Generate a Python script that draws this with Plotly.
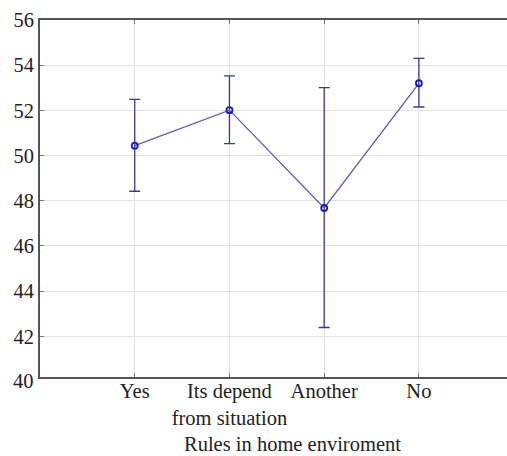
import plotly.graph_objects as go

categories = ["Yes", "Its depend<br>from situation", "Another", "No"]
means = [50.44, 52.01, 47.68, 53.20]
upper = [52.49, 53.53, 53.01, 54.30]
lower = [48.42, 50.53, 42.39, 52.15]
y_ticks = [42, 44, 46, 48, 50, 52, 54, 56]
x_title = "Rules in home enviroment"

x_pos = list(range(1, len(categories) + 1))
err_plus = [u - m for u, m in zip(upper, means)]
err_minus = [m - l for m, l in zip(means, lower)]

font_family = "Liberation Serif"
fs = 20.5
tfont = dict(family=font_family, size=fs, color="#222222")

fig = go.Figure()
fig.add_trace(go.Scatter(
    x=x_pos, y=means, mode="lines+markers",
    line=dict(color="#5c5cb2", width=1.3),
    marker=dict(symbol="circle-open", size=6, color="#1c1cc0", line=dict(width=1.8)),
    error_y=dict(type="data", symmetric=False, array=err_plus, arrayminus=err_minus,
                 color="#3a3a8c", thickness=1.3, width=5.5),
    showlegend=False,
))

fig.update_layout(
    width=507, height=456,
    margin=dict(l=40, r=0, t=20, b=79),
    paper_bgcolor="white", plot_bgcolor="white",
    font=tfont,
    xaxis=dict(
        range=[0, 4.93], tickvals=x_pos, ticktext=categories,
        showgrid=True, gridcolor="#e2e2e2", gridwidth=1.2,
        showline=True, linecolor="#555555", linewidth=1.6, mirror="ticks",
        ticks="inside", ticklen=4, tickcolor="#777777", zeroline=False,
        tickfont=tfont, automargin=False, ticklabelstandoff=-5,
    ),
    yaxis=dict(
        range=[40.2, 56], tickvals=y_ticks,
        showgrid=True, gridcolor="#e2e2e2", gridwidth=1.2,
        showline=True, linecolor="#555555", linewidth=1.6,
        ticks="inside", ticklen=4, tickcolor="#777777", zeroline=False,
        tickfont=tfont, automargin=False,
    ),
)

fig.add_annotation(text="40", x=0, xref="paper", xanchor="right", xshift=-4,
                   y=40.2, yref="y", yanchor="middle", yshift=-4, showarrow=False,
                   font=tfont)
fig.add_annotation(text=x_title, x=(292 - 40) / 467.0, xref="paper",
                   y=0, yref="paper", yanchor="top", yshift=-54,
                   showarrow=False, font=tfont)

fig.write_html("out.html", config={"displayModeBar": False},
               post_script="document.body.style.margin='0';document.body.style.overflow='hidden';")
